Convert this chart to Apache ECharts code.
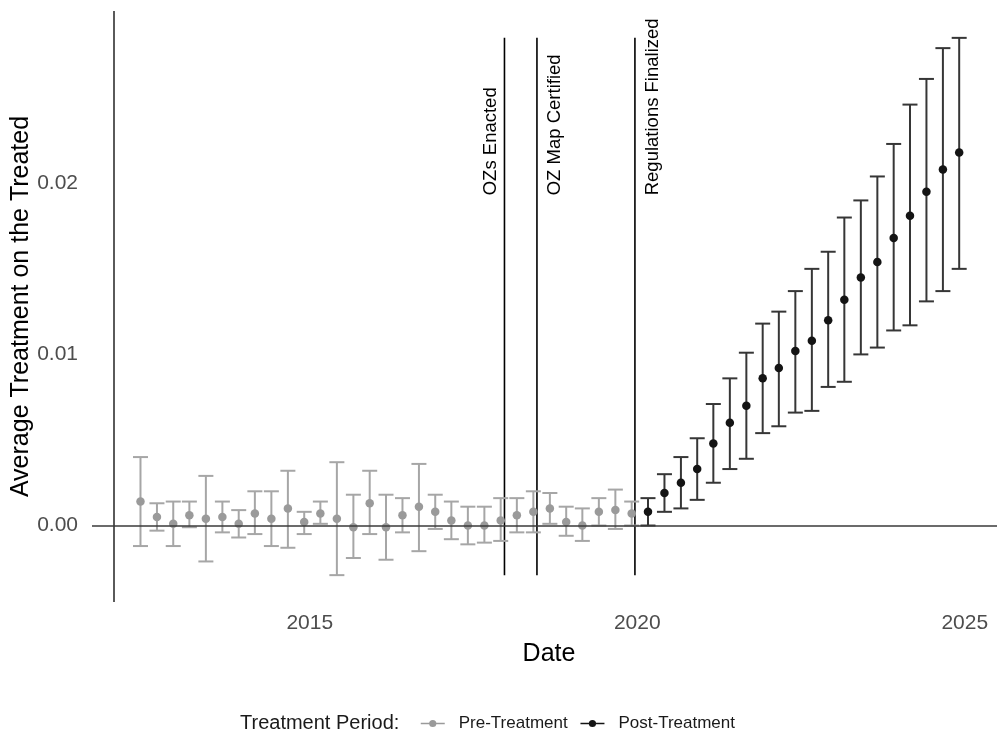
<!DOCTYPE html>
<html>
<head>
<meta charset="utf-8">
<script src="https://cdn.jsdelivr.net/npm/echarts@6/dist/echarts.min.js"></script>
<style>html,body{margin:0;padding:0;background:#fff;}#chart{width:997px;height:736px;}</style>
</head>
<body>
<div id="chart"></div>
<script>
// ---- data ----
const preDates = ['2012-06-01','2012-09-01','2012-12-01','2013-03-01','2013-06-01','2013-09-01','2013-12-01',
  '2014-03-01','2014-06-01','2014-09-01','2014-12-01','2015-03-01','2015-06-01','2015-09-01','2015-12-01',
  '2016-03-01','2016-06-01','2016-09-01','2016-12-01','2017-03-01','2017-06-01','2017-09-01','2017-12-01',
  '2018-03-01','2018-06-01','2018-09-01','2018-12-01','2019-03-01','2019-06-01','2019-09-01','2019-12-01'];
const preEst  = [0.0014,0.0005,0.0001,0.0006,0.0004,0.0005,0.0001,0.0007,0.0004,0.0010,0.0002,0.0007,0.0004,-0.0001,0.0013,
  -0.0001,0.0006,0.0011,0.0008,0.0003,0.0000,0.0000,0.0003,0.0006,0.0008,0.0010,0.0002,0.0000,0.0008,0.0009,0.0007];
const preHigh = [0.0040,0.0013,0.0014,0.0014,0.0029,0.0014,0.0009,0.0020,0.0020,0.0032,0.0008,0.0014,0.0037,0.0018,0.0032,
  0.0018,0.0016,0.0036,0.0018,0.0014,0.0011,0.0011,0.0016,0.0016,0.0020,0.0019,0.0011,0.0010,0.0016,0.0021,0.0014];
const preLow  = [-0.0012,-0.0003,-0.0012,-0.0001,-0.0021,-0.0004,-0.0007,-0.0005,-0.0012,-0.0013,-0.0005,0.0001,-0.0029,-0.0019,-0.0005,
  -0.0020,-0.0004,-0.0015,-0.0002,-0.0008,-0.0011,-0.0010,-0.0009,-0.0004,-0.0004,0.0001,-0.0006,-0.0009,0.0000,-0.0002,0.0000];

const postDates = ['2020-03-01','2020-06-01','2020-09-01','2020-12-01','2021-03-01','2021-06-01','2021-09-01','2021-12-01',
  '2022-03-01','2022-06-01','2022-09-01','2022-12-01','2023-03-01','2023-06-01','2023-09-01','2023-12-01',
  '2024-03-01','2024-06-01','2024-09-01','2024-12-01'];
const postEst  = [0.0008,0.0019,0.0025,0.0033,0.0048,0.0060,0.0070,0.0086,0.0092,0.0102,0.0108,0.0120,0.0132,0.0145,0.0154,0.0168,0.0181,0.0195,0.0208,0.0218];
const postHigh = [0.0016,0.0030,0.0040,0.0051,0.0071,0.0086,0.0101,0.0118,0.0125,0.0137,0.0150,0.0160,0.0180,0.0190,0.0204,0.0223,0.0246,0.0261,0.0279,0.0285];
const postLow  = [0.0000,0.0008,0.0010,0.0015,0.0025,0.0033,0.0039,0.0054,0.0058,0.0066,0.0067,0.0081,0.0084,0.0100,0.0104,0.0114,0.0117,0.0131,0.0137,0.0150];

const eventNames = ['OZs Enacted','OZ Map Certified','Regulations Finalized'];
const eventDates = ['2017-12-22','2018-06-21','2019-12-19'];
const baseLineDate = '2012-01-01';

const xTickYears = [2015, 2020, 2025];
const yTicks = [0, 0.01, 0.02];

// ---- helpers ----
function decYear(s) {
  const [y, m, d] = s.split('-').map(Number);
  const t = Date.UTC(y, m - 1, d), t0 = Date.UTC(y, 0, 1), t1 = Date.UTC(y + 1, 0, 1);
  return y + (t - t0) / (t1 - t0);
}
const allLow = Math.min(...preLow, ...postLow);
const allHigh = Math.max(...preHigh, ...postHigh);
const pad = (allHigh - allLow) * 0.05;

const preErr = preDates.map((d, i) => [decYear(d), preEst[i], preLow[i], preHigh[i]]);
const postErr = postDates.map((d, i) => [decYear(d), postEst[i], postLow[i], postHigh[i]]);
const eventData = eventDates.map((d, i) => [decYear(d), allLow, allHigh, i]);
const labelSide = [-14, 17.5, 17.5];
const labelStartValue = 0.0193;

function errRender(color) {
  return function (params, api) {
    const x = api.value(0), lo = api.value(2), hi = api.value(3);
    const a = api.coord([x, hi]), b = api.coord([x, lo]);
    const w = 7.5;
    const st = { stroke: color, lineWidth: 2 };
    return { type: 'group', children: [
      { type: 'line', shape: { x1: a[0], y1: a[1], x2: b[0], y2: b[1] }, style: st },
      { type: 'line', shape: { x1: a[0] - w, y1: a[1], x2: a[0] + w, y2: a[1] }, style: st },
      { type: 'line', shape: { x1: b[0] - w, y1: b[1], x2: b[0] + w, y2: b[1] }, style: st }
    ]};
  };
}

const chart = echarts.init(document.getElementById('chart'), null, { renderer: 'canvas' });
const option = {
  animation: false,
  backgroundColor: '#ffffff',
  textStyle: { fontFamily: 'Liberation Sans, Arial, sans-serif' },
  title: {
    text: 'Treatment Period:', left: 235, top: 708,
    textStyle: { fontSize: 20, fontWeight: 'normal', color: '#1a1a1a', fontFamily: 'Liberation Sans, Arial, sans-serif' }
  },
  legend: {
    data: ['Pre-Treatment', 'Post-Treatment'],
    left: 415, top: 710,
    itemWidth: 24, itemHeight: 9, itemGap: 12,
    textStyle: { fontSize: 17, color: '#1a1a1a', padding: [0, 0, 0, 9] },
    lineStyle: { width: 1.5 }
  },
  grid: { left: 92, right: -9, top: 11, bottom: 134, outerBoundsMode: 'none', containLabel: false },
  xAxis: {
    type: 'value', min: 2011.675, max: 2025.63,
    name: 'Date', nameLocation: 'middle', nameGap: 40, nameMoveOverlap: false,
    nameTextStyle: { fontSize: 25, color: '#000' },
    axisLine: { show: false }, axisTick: { show: false }, splitLine: { show: false },
    axisLabel: { customValues: xTickYears, formatter: v => String(Math.round(v)), fontSize: 21, color: '#4d4d4d', margin: 11 }
  },
  yAxis: {
    type: 'value', min: allLow - pad, max: allHigh + pad,
    name: 'Average Treatment on the Treated', nameLocation: 'middle', nameGap: 58, nameRotate: 90, nameMoveOverlap: false,
    nameTextStyle: { fontSize: 25, color: '#000' },
    axisLine: { show: false }, axisTick: { show: false }, splitLine: { show: false },
    axisLabel: { customValues: yTicks, formatter: v => v.toFixed(2), fontSize: 21, color: '#4d4d4d', margin: 14 }
  },
  series: [
    {
      type: 'custom', name: 'events', silent: true, z: 1,
      data: eventData, encode: { x: 0, y: [1, 2] },
      renderItem: function (params, api) {
        const x = api.value(0);
        const a = api.coord([x, api.value(2)]), b = api.coord([x, api.value(1)]);
        const idx = api.value(3);
        const lp = api.coord([x, labelStartValue]);
        return { type: 'group', children: [
          { type: 'line', shape: { x1: a[0], y1: a[1], x2: b[0], y2: b[1] }, style: { stroke: '#000', lineWidth: 1.6 } },
          { type: 'text', x: lp[0] + labelSide[idx], y: lp[1], rotation: Math.PI / 2,
            style: { text: eventNames[idx], fontSize: 18.5, fill: '#000', align: 'left', verticalAlign: 'middle',
              fontFamily: 'Liberation Sans, Arial, sans-serif' } }
        ]};
      },
      markLine: {
        silent: true, symbol: 'none', label: { show: false },
        data: [
          { xAxis: decYear(baseLineDate), lineStyle: { color: '#5a5a5a', width: 2, type: 'solid' } },
          { yAxis: 0, lineStyle: { color: '#3a3a3a', width: 1.6, type: 'solid' } }
        ]
      }
    },
    {
      type: 'custom', name: 'preErr', silent: true, z: 2,
      data: preErr, encode: { x: 0, y: [2, 3] }, renderItem: errRender('#a6a6a6')
    },
    {
      type: 'custom', name: 'postErr', silent: true, z: 2,
      data: postErr, encode: { x: 0, y: [2, 3] }, renderItem: errRender('#363636')
    },
    {
      type: 'line', name: 'Pre-Treatment', z: 3,
      data: preErr.map(r => [r[0], r[1]]),
      symbol: 'circle', symbolSize: 8.5, showSymbol: true,
      itemStyle: { color: '#9a9a9a' }, lineStyle: { width: 0, color: '#9a9a9a' }
    },
    {
      type: 'line', name: 'Post-Treatment', z: 3,
      data: postErr.map(r => [r[0], r[1]]),
      symbol: 'circle', symbolSize: 8.5, showSymbol: true,
      itemStyle: { color: '#141414' }, lineStyle: { width: 0, color: '#141414' }
    }
  ]
};
chart.setOption(option);
</script>
</body>
</html>
